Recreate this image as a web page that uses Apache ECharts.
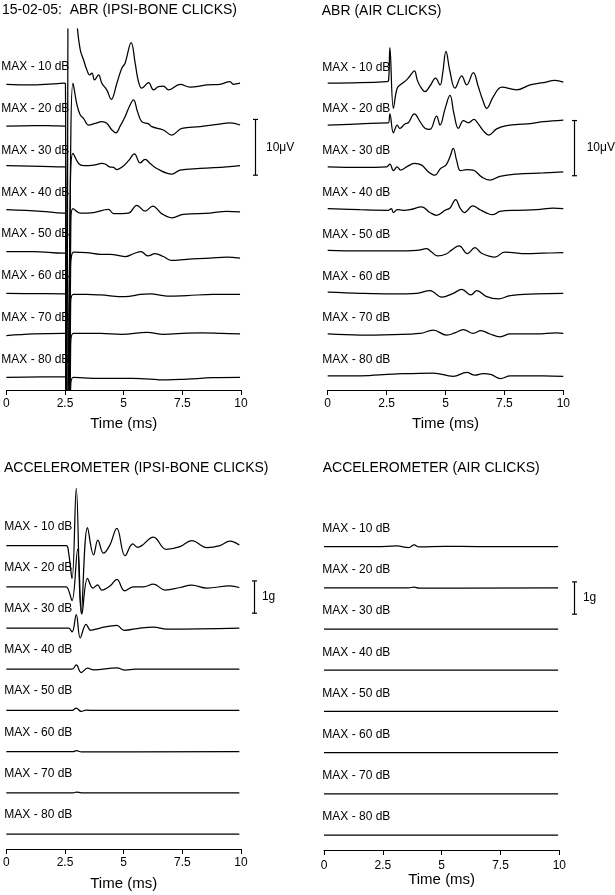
<!DOCTYPE html>
<html><head><meta charset="utf-8">
<script src="https://cdn.jsdelivr.net/npm/echarts@6/dist/echarts.min.js"></script>
<style>html,body{margin:0;padding:0;background:#fff}#c{width:615px;height:895px}</style>
</head><body><div id="c"></div>
<script>
// ---------- data ----------
const levels = ['MAX - 10 dB','MAX - 20 dB','MAX - 30 dB','MAX - 40 dB','MAX - 50 dB','MAX - 60 dB','MAX - 70 dB','MAX - 80 dB'];
const xTicks = [0, 2.5, 5, 7.5, 10];
const panelTitles = ['15-02-05:  ABR (IPSI-BONE CLICKS)', 'ABR (AIR CLICKS)', 'ACCELEROMETER (IPSI-BONE CLICKS)', 'ACCELEROMETER (AIR CLICKS)'];
const xAxisTitle = 'Time (ms)';
const abrStepUV = 7.5;     // vertical spacing of ABR traces (µV)
const accStepG = 1.25;     // vertical spacing of accelerometer traces (g)
const abrScaleLabel = '10μV';
const accScaleLabel = '1g';

// ABR, ipsilateral bone clicks: [time ms, µV re trace baseline]
const abrBone = [
 [[0,0],[1.0,-0.1],[2.0,0.1],[2.45,0.2],[2.52,0.1],[2.56,-80],[2.72,80],[2.95,16],[3.03,10],[3.15,6.2],[3.29,4.4],[3.43,2.6],[3.55,1.7],[3.65,2.0],[3.76,0.8],[3.93,1.7],[4.07,0.2],[4.28,-1.0],[4.47,-2.7],[4.71,0.2],[4.92,2.9],[5.06,3.8],[5.32,7.5],[5.49,3.8],[5.63,0.5],[5.77,-0.7],[6.06,0.3],[6.27,-1.0],[6.48,-0.4],[6.69,-0.3],[6.91,-1.0],[7.4,0.0],[7.83,-0.5],[8.54,-0.1],[9.1,0.0],[9.53,0.5],[9.67,0.0],[9.96,0.2]],
 [[0,0],[1.2,0.1],[2.0,0.05],[2.45,0],[2.52,0],[2.57,-80],[2.74,-5],[2.84,7.7],[3.01,3.8],[3.15,2.0],[3.29,1.4],[3.5,0.2],[3.79,0.5],[4.07,0.8],[4.28,0.5],[4.5,-0.7],[4.67,-1.2],[4.85,0],[5.06,1.7],[5.21,3.2],[5.42,4.7],[5.59,2.6],[5.77,0.8],[6.06,0.4],[6.2,-0.1],[6.69,-0.7],[7.05,-1.6],[7.48,-0.4],[8.26,-0.1],[9.0,0.3],[9.53,0.6],[9.96,0.2]],
 [[0,0.4],[1.5,0.3],[2.44,0.2],[2.52,0.2],[2.57,-80],[2.73,-3],[2.84,2.6],[3.08,0.8],[3.29,0.4],[3.72,0.5],[4.07,0.8],[4.21,0.7],[4.4,0.2],[4.57,0.1],[4.71,-0.3],[4.92,0.1],[5.21,1.3],[5.46,2.5],[5.7,0.9],[5.91,1.55],[6.13,0.8],[6.41,-0.1],[7.05,-1.1],[7.4,-0.4],[8.26,-0.1],[9.39,0.2],[9.96,0.4]],
 [[0,0],[1.5,-0.3],[2.44,-0.6],[2.52,-0.6],[2.58,-80],[2.75,-2],[2.84,0.2],[3.15,-0.6],[3.72,-0.5],[4.35,0.05],[4.57,-0.7],[5.21,-0.6],[5.56,0.8],[5.91,-0.25],[6.24,0.65],[6.62,-0.7],[7.05,-1.45],[7.54,-0.85],[8.68,-0.6],[9.39,-0.3],[9.96,-0.4]],
 [[0,0],[1.16,0],[2.44,-0.3],[2.52,-0.3],[2.58,-80],[2.74,-3],[2.87,-0.1],[3.43,-0.2],[4.0,-0.5],[4.43,-0.5],[5.06,-0.9],[5.42,-0.4],[5.74,0],[6.03,-0.8],[6.34,-0.4],[6.69,-0.9],[7.05,-1.6],[7.69,-1.4],[8.68,-1.2],[9.39,-1.0],[9.96,-1.2]],
 [[0,0],[1.2,-0.05],[2.44,-0.1],[2.52,-0.1],[2.58,-80],[2.74,-2],[2.85,-0.2],[3.43,-0.2],[4.0,-0.3],[5.06,-0.6],[5.7,-0.2],[6.13,-0.1],[6.84,-0.5],[7.69,-0.4],[8.82,-0.2],[9.96,-0.2]],
 [[0,-0.1],[1.16,0.2],[2.44,0.3],[2.52,0.3],[2.58,-80],[2.74,-2],[2.85,0.3],[4.0,0.3],[4.9,0.15],[6.0,0.5],[6.7,0.15],[7.7,0.35],[8.3,0.4],[9.2,0.3],[9.96,0.2]],
 [[0,-0.1],[1.5,0],[2.44,0],[2.52,0],[2.58,-80],[2.74,-2],[2.85,-0.1],[4.0,-0.25],[5.4,-0.25],[6.84,-0.55],[7.7,-0.4],[8.8,-0.15],[9.96,-0.1]]
];

// ABR, air clicks: [time ms, µV re trace baseline]
const abrAir = [
 [[0,0],[1.37,0.1],[2.5,0.3],[2.58,0.4],[2.64,6.4],[2.79,-4.5],[2.95,-0.9],[3.14,-0.1],[3.35,0.6],[3.49,1.3],[3.68,2.2],[3.8,0.6],[3.92,-0.5],[4.13,-1.5],[4.34,-0.5],[4.58,0.9],[4.77,-0.3],[4.88,1.8],[5.02,5.7],[5.19,2.1],[5.4,-0.9],[5.69,1.3],[5.9,-0.3],[6.18,1.9],[6.39,-0.6],[6.58,-3.0],[6.75,-4.5],[7.03,-2.4],[7.39,-0.7],[8.02,-1.2],[8.59,-0.3],[9.15,0.1],[9.65,0.5],[10,0.2]],
 [[0,0],[1.37,0.2],[2.5,0.4],[2.58,0.4],[2.64,2.0],[2.79,-1.4],[2.95,0],[3.06,-0.6],[3.28,0.2],[3.42,0.4],[3.68,2.0],[3.92,0.6],[4.13,-0.6],[4.34,-0.8],[4.62,1.6],[4.77,0],[4.98,2.9],[5.19,5.3],[5.36,2.0],[5.55,-0.6],[5.76,0.8],[5.97,0.4],[6.21,1.0],[6.39,0.2],[6.6,-1.0],[6.84,-1.8],[7.17,-0.7],[7.6,-0.1],[8.45,0.2],[9.15,0.6],[10,0.9]],
 [[0,0],[1.37,-0.1],[2.5,0],[2.64,0.5],[2.79,-0.7],[2.95,0],[3.09,-0.6],[3.35,0],[3.68,0.6],[3.99,0.3],[4.27,-0.9],[4.55,-1.5],[4.79,-0.3],[5.02,0.3],[5.19,1.8],[5.33,3.3],[5.47,1.2],[5.64,-0.7],[5.9,-0.5],[6.18,-0.6],[6.53,-1.8],[6.89,-2.4],[7.31,-1.7],[8.02,-1.3],[9.15,-1.1],[10,-0.9]],
 [[0,0],[1.37,-0.2],[2.58,-0.3],[2.7,0],[2.79,-0.7],[2.95,-0.2],[3.21,-0.3],[3.49,-0.2],[3.99,0.3],[4.34,-0.7],[4.62,-1.2],[4.98,-0.3],[5.19,0.1],[5.43,1.6],[5.62,0.1],[5.8,-0.7],[6.16,0.5],[6.47,-0.2],[6.75,-0.8],[7.0,-1.1],[7.31,-0.5],[8.02,-0.3],[8.87,-0.2],[9.58,0.1],[10,0]],
 [[0,0],[1.37,-0.1],[2.79,-0.1],[3.78,0],[4.2,0.3],[4.41,-0.3],[4.67,-1.0],[5.05,-0.6],[5.27,0.1],[5.58,0.8],[5.93,-0.6],[6.25,0.5],[6.53,-0.5],[7.1,-1.2],[7.51,-0.3],[8.45,-0.6],[9.15,-0.5],[10,-0.4]],
 [[0,0],[1.37,-0.2],[2.79,-0.3],[3.78,-0.2],[4.34,0.3],[4.84,-0.9],[5.33,-0.2],[5.69,0.5],[6.08,-0.5],[6.33,0.3],[6.75,-0.8],[7.25,-1.2],[7.75,-0.6],[8.87,-0.3],[10,-0.2]],
 [[0,0],[1.37,-0.2],[2.79,-0.1],[3.92,0.1],[4.48,0.7],[5.05,-0.2],[5.4,0.2],[5.76,0.8],[6.18,0.1],[6.5,0.6],[6.89,0],[7.31,-0.5],[7.75,0],[8.87,0],[9.72,0.2],[10,0.1]],
 [[0,0],[1.37,0],[2.79,0.3],[4.48,0.5],[5.33,-0.1],[5.9,0.6],[6.25,0.1],[6.6,0.4],[6.95,0.2],[7.33,-0.5],[7.75,0],[9.15,0],[10,-0.1]]
];

// Accelerometer, ipsilateral bone clicks: [time ms, g re trace baseline]
const accBone = [
 [[0,0],[1.5,0],[2.55,0],[2.65,-0.2],[2.8,-1.0],[2.98,1.74],[3.19,-2.05],[3.46,0.55],[3.72,-0.28],[3.9,0.17],[4.14,-0.23],[4.4,0.0],[4.71,0.52],[5.06,-0.31],[5.39,0.05],[5.59,-0.05],[5.77,0],[6.27,0.26],[6.81,-0.11],[7.4,-0.03],[7.9,0.15],[8.54,-0.06],[9.1,0],[9.53,0.14],[9.93,0.02]],
 [[0,0],[1.5,0],[2.55,0],[2.65,-0.1],[2.8,-0.42],[3.04,1.14],[3.22,-0.83],[3.46,0.26],[3.69,-0.04],[3.89,0.06],[4.07,-0.1],[4.43,0.03],[4.71,0.23],[5.04,-0.12],[5.42,0],[5.84,0],[6.27,0.08],[6.77,-0.1],[7.4,-0.02],[7.9,0.05],[8.54,-0.04],[9.53,0.03],[9.93,-0.02]],
 [[0,0],[2.65,0],[2.8,-0.12],[2.98,0.41],[3.15,-0.3],[3.4,0.11],[3.6,-0.07],[4.0,0],[4.71,0.08],[5.02,-0.07],[5.7,0],[6.27,0.03],[6.84,-0.03],[9.93,0]],
 [[0,0],[2.8,0],[2.98,0.13],[3.19,-0.1],[3.46,0.03],[3.72,-0.02],[4.71,0.04],[5.06,-0.03],[5.5,0],[9.93,0]],
 [[0,0],[2.8,0],[2.98,0.07],[3.19,-0.03],[3.4,0.01],[3.8,0],[9.93,0]],
 [[0,0],[2.85,0],[2.98,0.03],[3.2,-0.01],[9.93,0]],
 [[0,0],[2.85,0],[2.98,0.02],[3.2,0],[9.93,0]],
 [[0,0],[5,0],[9.93,0]]
];

// Accelerometer, air clicks: [time ms, g re trace baseline]
const accAir = [
 [[0,0],[2.25,0],[3.1,0.02],[3.6,-0.03],[3.83,0.05],[4.04,-0.01],[5.11,0.01],[6.53,0],[9.95,0]],
 [[0,0],[3.6,0],[3.83,0.02],[4.04,-0.01],[9.95,0]],
 [[0,0],[5,0],[9.95,0]],
 [[0,0],[5,0],[9.95,0]],
 [[0,0],[5,0],[9.95,0]],
 [[0,0],[5,0],[9.95,0]],
 [[0,0],[5,0],[9.95,0]],
 [[0,0],[5,0],[9.95,0]]
];

// ---------- layout ----------
const FONT = '"Liberation Sans", Arial, Helvetica, sans-serif';
const panels = [
  {traces: abrBone, step: abrStepUV, grid: {left: 6, top: 29, width: 235, height: 361}, ymin: -2.35, ymax: 62.43,
   labelOff: [-5, -17.5], tickMargin: 8, nameGap: 26, title: [2, 10.5],
   bar: {t: 10.6, lo: 36.2, hi: 46.2, text: abrScaleLabel, gap: 10.5}},
  {traces: abrAir, step: abrStepUV, grid: {left: 327.7, top: 29, width: 235.6, height: 361}, ymin: -2.55, ymax: 62.23,
   labelOff: [-5.4, -16], tickMargin: 8, nameGap: 26, title: [321.7, 11],
   bar: {t: 10.47, lo: 35.9, hi: 45.8, text: abrScaleLabel, gap: 12.2}},
  {traces: accBone, step: accStepG, grid: {left: 6, top: 470, width: 235, height: 379}, ymin: -0.455, ymax: 11.045,
   labelOff: [-2, -19.3], tickMargin: 7.5, nameGap: 27.5, title: [4, 468.3],
   bar: {t: 10.57, lo: 6.7, hi: 7.68, text: accScaleLabel, gap: 7.4}},
  {traces: accAir, step: accStepG, grid: {left: 324, top: 471, width: 235.3, height: 379}, ymin: -0.455, ymax: 11.045,
   labelOff: [-1.7, -18], tickMargin: 9.5, nameGap: 20, title: [322.7, 468.3],
   bar: {t: 10.64, lo: 6.7, hi: 7.68, text: accScaleLabel, gap: 8.4}}
];

const grids = [], xAxes = [], yAxes = [], series = [], graphics = [];
panels.forEach((p, pi) => {
  grids.push(Object.assign({}, p.grid));
  xAxes.push({
    type: 'value', gridIndex: pi, min: xTicks[0], max: xTicks[xTicks.length - 1],
    interval: xTicks[1] - xTicks[0],
    name: xAxisTitle, nameLocation: 'middle', nameGap: p.nameGap,
    nameTextStyle: {fontFamily: FONT, fontSize: 15, color: '#000'},
    axisLine: {show: true, onZero: false, lineStyle: {color: '#000', width: 1}},
    axisTick: {show: true, length: 5, inside: false, lineStyle: {color: '#000', width: 1}},
    axisLabel: {show: true, margin: p.tickMargin, fontFamily: FONT, fontSize: 12, color: '#000'},
    splitLine: {show: false}
  });
  yAxes.push({type: 'value', gridIndex: pi, min: p.ymin, max: p.ymax, show: false, splitLine: {show: false}});
  p.traces.forEach((tr, i) => {
    const off = (levels.length - 1 - i) * p.step;
    series.push({
      type: 'line', xAxisIndex: pi, yAxisIndex: pi, name: panelTitles[pi] + ' ' + levels[i],
      data: tr.map(d => [d[0], d[1] + off]),
      smooth: 0.4, showSymbol: false, symbol: 'none', clip: true,
      lineStyle: {color: '#000', width: 1.25}, silent: true, animation: false
    });
  });
  // level labels
  series.push({
    type: 'scatter', xAxisIndex: pi, yAxisIndex: pi, symbolSize: 0, clip: false, silent: true,
    itemStyle: {opacity: 1, color: '#000'},
    data: levels.map((l, i) => [xTicks[0], (levels.length - 1 - i) * p.step, l]),
    label: {show: true, position: 'right', distance: 0, offset: p.labelOff,
      formatter: prm => prm.data[2], fontFamily: FONT, fontSize: 12, color: '#000', opacity: 1},
    animation: false
  });
  // scale bar
  series.push({
    type: 'custom', xAxisIndex: pi, yAxisIndex: pi, clip: false, silent: true, animation: false,
    data: [[p.bar.t, p.bar.lo, p.bar.hi]],
    renderItem: (params, api) => {
      const a = api.coord([api.value(0), api.value(2)]);
      const b = api.coord([api.value(0), api.value(1)]);
      const x = Math.round(a[0]) + 0.5;
      const st = {stroke: '#000', lineWidth: 1.2};
      return {type: 'group', children: [
        {type: 'line', shape: {x1: x, y1: a[1], x2: x, y2: b[1]}, style: st},
        {type: 'line', shape: {x1: x - 2.5, y1: a[1], x2: x + 2.5, y2: a[1]}, style: st},
        {type: 'line', shape: {x1: x - 2.5, y1: b[1], x2: x + 2.5, y2: b[1]}, style: st},
        {type: 'text', x: x + p.bar.gap, y: (a[1] + b[1]) / 2,
         style: {text: p.bar.text, fill: '#000', font: '12px ' + FONT, align: 'left', verticalAlign: 'middle'}}
      ]};
    }
  });
  graphics.push({type: 'text', x: p.title[0], y: p.title[1], silent: true,
    style: {text: panelTitles[pi], fill: '#000', font: '14px ' + FONT, align: 'left', verticalAlign: 'middle'}});
});

const chart = echarts.init(document.getElementById('c'), null, {renderer: 'canvas'});
chart.setOption({
  backgroundColor: '#fff', animation: false,
  grid: grids, xAxis: xAxes, yAxis: yAxes, series: series, graphic: graphics
});
</script></body></html>
